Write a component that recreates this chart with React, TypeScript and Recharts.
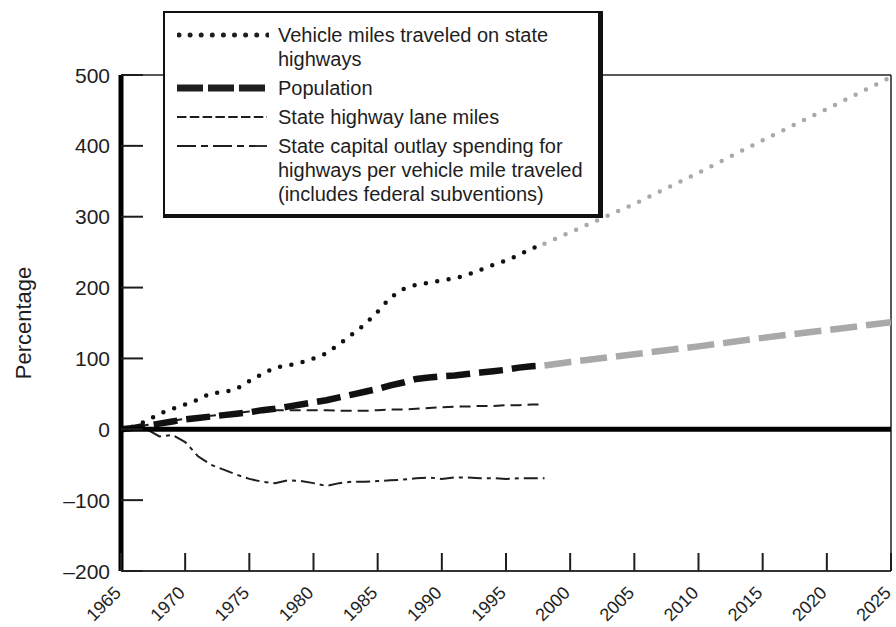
import React from "react"
import { LineChart, Line, XAxis, YAxis, ReferenceLine } from "recharts"

/* ---------- data ---------- */

const years = [
  1965, 1966, 1967, 1968, 1969, 1970, 1971, 1972, 1973, 1974, 1975, 1976,
  1977, 1978, 1979, 1980, 1981, 1982, 1983, 1984, 1985, 1986, 1987, 1988,
  1989, 1990, 1991, 1992, 1993, 1994, 1995, 1996, 1997, 1998,
]

// Vehicle miles traveled on state highways (% change since 1965)
const vmt = [
  0, 4, 12, 22, 29, 35, 42, 51, 52, 57, 68, 78, 87, 90, 94, 100, 107, 120,
  134, 148, 166, 186, 198, 204, 207, 210, 213, 218, 225, 232, 238, 246, 255, 262,
]

const population = [
  0, 2, 5, 8, 11, 14, 16, 18, 20, 22, 24, 27, 29, 32, 35, 38, 41, 45, 49, 53,
  57, 62, 66, 71, 73, 75, 76, 78, 80, 82, 84, 87, 89, 90,
]

const laneMiles = [
  0, 3, 6, 9, 12, 15, 17, 19, 21, 23, 25, 26, 27, 27, 27, 27, 27, 26, 26, 26,
  27, 28, 28, 29, 30, 31, 32, 32, 33, 33, 34, 34, 35, 35,
]

const capitalOutlay = [
  0, 2, 0, -10, -8, -18, -38, -50, -57, -64, -70, -74, -76, -72, -73, -76, -80,
  -76, -74, -74, -73, -72, -71, -69, -68, -70, -68, -68, -69, -69, -70, -69, -69, -69,
]

// projections (gray)
const projYears = [1998, 2000, 2005, 2010, 2015, 2020, 2025]
const vmtProjection = [262, 278, 318, 362, 408, 452, 497]
const populationProjection = [90, 95, 106, 117, 129, 140, 151]

const xTicks = [1965, 1970, 1975, 1980, 1985, 1990, 1995, 2000, 2005, 2010, 2015, 2020, 2025]
const yTicks = [-200, -100, 0, 100, 200, 300, 400, 500]

const legendItems = [
  { key: "vmt", lines: ["Vehicle miles traveled on state", "highways"] },
  { key: "pop", lines: ["Population"] },
  { key: "lane", lines: ["State highway lane miles"] },
  {
    key: "cap",
    lines: [
      "State capital outlay spending for",
      "highways per vehicle mile traveled",
      "(includes federal subventions)",
    ],
  },
]

const actual = years.map((year, i) => ({
  year,
  vmt: vmt[i],
  population: population[i],
  lane: laneMiles[i],
  capital: capitalOutlay[i],
}))

const projection = projYears.map((year, i) => ({
  year,
  vmt: vmtProjection[i],
  population: populationProjection[i],
}))

const FONT = '"Liberation Sans", Arial, Helvetica, sans-serif'
const INK = "#1e1e1e"
const GRAY = "#a9a9a9"

/* ---------- ticks ---------- */

function XTick({ x, y, payload }: any) {
  const tx = x + 1
  const ty = y + 23
  return (
    <g>
      <line x1={x} x2={x} y1={y} y2={y - 18} stroke={INK} strokeWidth={2} />
      <text
        x={tx}
        y={ty}
        transform={`rotate(-45 ${tx} ${ty})`}
        textAnchor="end"
        fontSize={18}
        fontFamily={FONT}
        fill={INK}
      >
        {payload.value}
      </text>
    </g>
  )
}

function YTick({ x, y, payload }: any) {
  const v = payload.value as number
  const label = v < 0 ? `\u2013${Math.abs(v)}` : String(v)
  return (
    <g>
      <line x1={x} x2={x + 22} y1={y} y2={y} stroke={INK} strokeWidth={2} />
      <text
        x={x - 11}
        y={y}
        dy="0.36em"
        textAnchor="end"
        fontSize={21}
        fontFamily={FONT}
        fill={INK}
      >
        {label}
      </text>
    </g>
  )
}

function YLabel({ viewBox }: any) {
  const cx = viewBox.x - 38
  const cy = viewBox.y + viewBox.height / 2
  return (
    <text
      x={cx}
      y={cy}
      transform={`rotate(-90 ${cx} ${cy})`}
      textAnchor="middle"
      dy="0.35em"
      fontSize={22}
      fontFamily={FONT}
      fill={INK}
    >
      Percentage
    </text>
  )
}

/* ---------- legend ---------- */

function LegendSymbol({ kind }: { kind: string }) {
  return (
    <svg width={92} height={24} style={{ display: "block" }}>
      {kind === "vmt" && (
        <line x1={2} x2={91} y1={12} y2={12} stroke={INK} strokeWidth={5}
          strokeLinecap="round" strokeDasharray="0 11.1" />
      )}
      {kind === "pop" && (
        <line x1={0} x2={90} y1={12} y2={12} stroke={INK} strokeWidth={7}
          strokeDasharray="26 5" />
      )}
      {kind === "lane" && (
        <line x1={0} x2={90} y1={12} y2={12} stroke={INK} strokeWidth={1.8}
          strokeDasharray="9.5 3.3" />
      )}
      {kind === "cap" && (
        <line x1={0} x2={90} y1={12} y2={12} stroke={INK} strokeWidth={1.8}
          strokeDasharray="19 5 7 5" />
      )}
    </svg>
  )
}

function ChartLegend() {
  return (
    <div
      style={{
        position: "absolute",
        left: 163,
        top: 11,
        width: 440,
        height: 207,
        boxSizing: "border-box",
        background: "#fff",
        borderStyle: "solid",
        borderColor: "#111",
        borderWidth: "2px 5px 4px 2px",
        padding: "10px 0 0 12px",
        fontFamily: FONT,
        fontSize: 20,
        lineHeight: "24px",
        color: INK,
      }}
    >
      {legendItems.map((item) => (
        <div key={item.key} style={{ display: "flex", marginBottom: 5 }}>
          <div style={{ width: 101, flexShrink: 0 }}>
            <LegendSymbol kind={item.key} />
          </div>
          <div style={{ whiteSpace: "nowrap" }}>
            {item.lines.map((l) => (
              <div key={l}>{l}</div>
            ))}
          </div>
        </div>
      ))}
    </div>
  )
}

/* ---------- chart ---------- */

export default function App() {
  return (
    <div style={{ position: "absolute", left: 0, top: 0, width: 896, height: 627, background: "#fff" }}>
      <LineChart
        width={896}
        height={627}
        margin={{ top: 75, right: 5, bottom: 6, left: 61 }}
      >
        <XAxis
          dataKey="year"
          type="number"
          domain={[1965, 2025]}
          ticks={xTicks}
          interval={0}
          height={50}
          axisLine={{ stroke: "#333", strokeWidth: 2 }}
          tickLine={false}
          tickSize={0}
          tickMargin={0}
          tick={<XTick />}
          allowDataOverflow
        />
        <YAxis
          type="number"
          domain={[-200, 500]}
          ticks={yTicks}
          interval={0}
          width={60}
          axisLine={{ stroke: "#000", strokeWidth: 5 }}
          tickLine={false}
          tickSize={0}
          tickMargin={0}
          tick={<YTick />}
          label={<YLabel />}
          allowDataOverflow
        />
        <ReferenceLine y={500} stroke="#222" strokeWidth={1.5} />
        <ReferenceLine x={2025} stroke="#222" strokeWidth={1.5} />

        <Line data={projection} dataKey="vmt" type="linear" stroke={GRAY} strokeWidth={4.5}
          strokeLinecap="round" strokeDasharray="0 11.5" dot={false} activeDot={false}
          isAnimationActive={false} />
        <Line data={projection} dataKey="population" type="linear" stroke={GRAY} strokeWidth={6.5}
          strokeDasharray="27 9" dot={false} activeDot={false} isAnimationActive={false} />

        <Line data={actual} dataKey="lane" type="linear" stroke={INK} strokeWidth={2}
          strokeDasharray="11 6" dot={false} activeDot={false} isAnimationActive={false} />
        <Line data={actual} dataKey="capital" type="linear" stroke={INK} strokeWidth={2}
          strokeDasharray="14 5 4 5" dot={false} activeDot={false} isAnimationActive={false} />
        <Line data={actual} dataKey="population" type="linear" stroke="#111" strokeWidth={6.5}
          strokeDasharray="24 9" dot={false} activeDot={false} isAnimationActive={false} />
        <Line data={actual} dataKey="vmt" type="linear" stroke="#111" strokeWidth={4.5}
          strokeLinecap="round" strokeDasharray="0 11.5" dot={false} activeDot={false}
          isAnimationActive={false} />

        <ReferenceLine y={0} stroke="#000" strokeWidth={5} />
      </LineChart>
      <ChartLegend />
    </div>
  )
}
